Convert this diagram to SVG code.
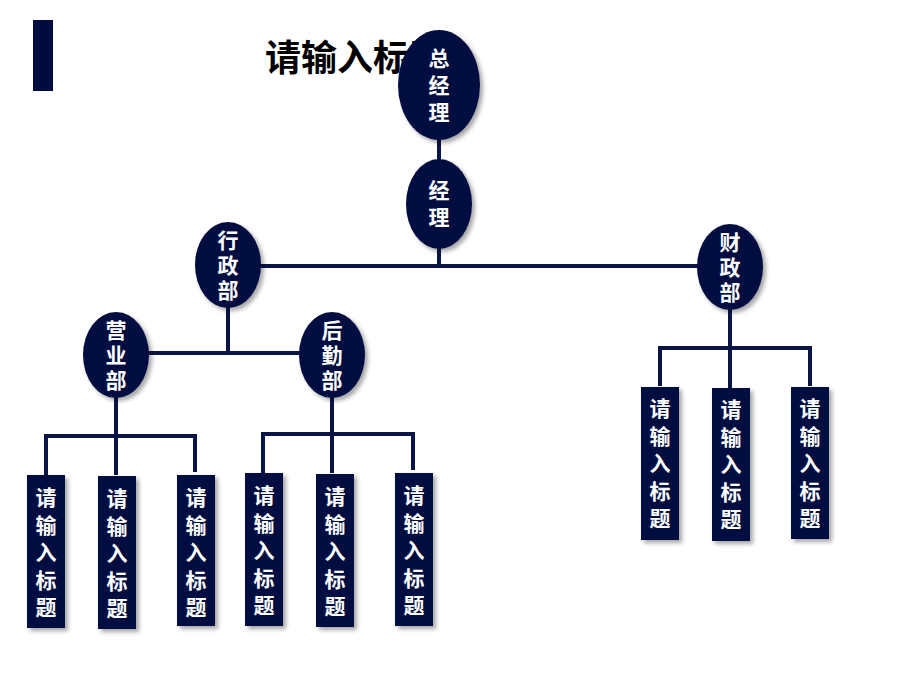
<svg xmlns="http://www.w3.org/2000/svg" width="920" height="690" viewBox="0 0 920 690">
<defs>
<filter id="sh" x="-30%" y="-30%" width="160%" height="160%"><feDropShadow dx="3" dy="3" stdDeviation="2" flood-color="#000" flood-opacity="0.35"/></filter>
<style>
.n{fill:#000c40;filter:url(#sh)}
.t{fill:#fff;font-family:"Noto Sans CJK SC",sans-serif;font-weight:bold;font-size:21px;text-anchor:middle}
.c{stroke:#0a1445;stroke-width:4;fill:none}
</style>
</defs>
<rect x="33" y="20" width="20" height="71" fill="#000c40"/>
<text x="265" y="71" font-family="Noto Sans CJK SC,sans-serif" font-weight="bold" font-size="36" fill="#000">请输入标题</text>
<g id="connectors">
<path class="c" d="M439 140V268M260 266H698M228 306V353M148 353H300M116 396V475M46 475V436H195V472M332 396V473M263 473V434H413V470M730 308V388M660 386V348H810V386"/>
</g>
<g id="n0"><ellipse class="n" cx="439" cy="85" rx="41" ry="55"/><text class="t" x="439" y="66">总<tspan x="439" dy="27">经</tspan><tspan x="439" dy="27">理</tspan></text></g>
<g id="n1"><ellipse class="n" cx="439" cy="204" rx="33" ry="45"/><text class="t" x="439" y="198">经<tspan x="439" dy="27">理</tspan></text></g>
<g id="n2"><ellipse class="n" cx="228" cy="265" rx="33" ry="43"/><text class="t" x="228" y="248">行<tspan x="228" dy="25">政</tspan><tspan x="228" dy="25">部</tspan></text></g>
<g id="n3"><ellipse class="n" cx="730" cy="267" rx="33" ry="43"/><text class="t" x="730" y="250">财<tspan x="730" dy="25">政</tspan><tspan x="730" dy="25">部</tspan></text></g>
<g id="n4"><ellipse class="n" cx="116" cy="355" rx="33" ry="43"/><text class="t" x="116" y="338">营<tspan x="116" dy="25">业</tspan><tspan x="116" dy="25">部</tspan></text></g>
<g id="n5"><ellipse class="n" cx="332" cy="355" rx="33" ry="43"/><text class="t" x="332" y="338">后<tspan x="332" dy="25">勤</tspan><tspan x="332" dy="25">部</tspan></text></g>
<g id="b1"><rect class="n" x="27" y="475" width="38" height="153"/><text class="t" x="46" y="505">请<tspan x="46" dy="27.5">输</tspan><tspan x="46" dy="27.5">入</tspan><tspan x="46" dy="27.5">标</tspan><tspan x="46" dy="27.5">题</tspan></text></g>
<g id="b2"><rect class="n" x="98" y="476" width="38" height="153"/><text class="t" x="117" y="506">请<tspan x="117" dy="27.5">输</tspan><tspan x="117" dy="27.5">入</tspan><tspan x="117" dy="27.5">标</tspan><tspan x="117" dy="27.5">题</tspan></text></g>
<g id="b3"><rect class="n" x="177" y="475" width="38" height="151"/><text class="t" x="196" y="505">请<tspan x="196" dy="27.5">输</tspan><tspan x="196" dy="27.5">入</tspan><tspan x="196" dy="27.5">标</tspan><tspan x="196" dy="27.5">题</tspan></text></g>
<g id="b4"><rect class="n" x="245" y="473" width="38" height="153"/><text class="t" x="264" y="503">请<tspan x="264" dy="27.5">输</tspan><tspan x="264" dy="27.5">入</tspan><tspan x="264" dy="27.5">标</tspan><tspan x="264" dy="27.5">题</tspan></text></g>
<g id="b5"><rect class="n" x="316" y="474" width="38" height="153"/><text class="t" x="335" y="504">请<tspan x="335" dy="27.5">输</tspan><tspan x="335" dy="27.5">入</tspan><tspan x="335" dy="27.5">标</tspan><tspan x="335" dy="27.5">题</tspan></text></g>
<g id="b6"><rect class="n" x="395" y="473" width="38" height="153"/><text class="t" x="414" y="503">请<tspan x="414" dy="27.5">输</tspan><tspan x="414" dy="27.5">入</tspan><tspan x="414" dy="27.5">标</tspan><tspan x="414" dy="27.5">题</tspan></text></g>
<g id="b7"><rect class="n" x="641" y="387" width="38" height="153"/><text class="t" x="660" y="416">请<tspan x="660" dy="27.5">输</tspan><tspan x="660" dy="27.5">入</tspan><tspan x="660" dy="27.5">标</tspan><tspan x="660" dy="27.5">题</tspan></text></g>
<g id="b8"><rect class="n" x="712" y="388" width="38" height="153"/><text class="t" x="731" y="417">请<tspan x="731" dy="27.5">输</tspan><tspan x="731" dy="27.5">入</tspan><tspan x="731" dy="27.5">标</tspan><tspan x="731" dy="27.5">题</tspan></text></g>
<g id="b9"><rect class="n" x="791" y="387" width="38" height="152"/><text class="t" x="810" y="416">请<tspan x="810" dy="27.5">输</tspan><tspan x="810" dy="27.5">入</tspan><tspan x="810" dy="27.5">标</tspan><tspan x="810" dy="27.5">题</tspan></text></g>
</svg>
